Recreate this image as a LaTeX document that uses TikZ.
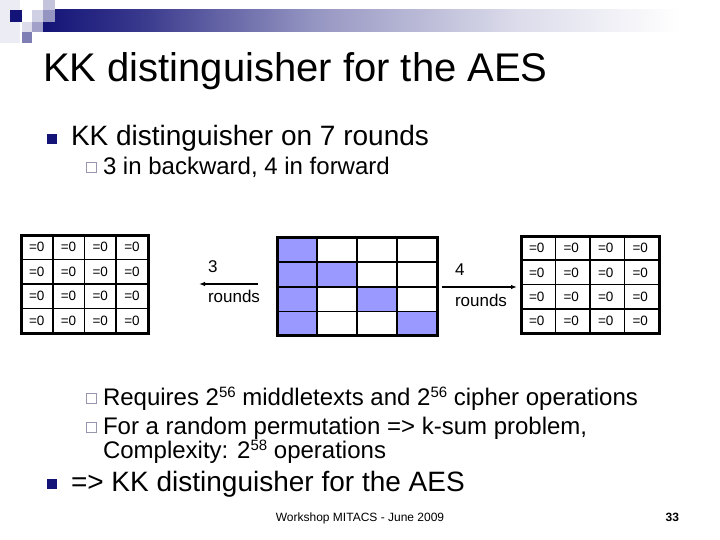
\documentclass[tikz,border=0pt]{standalone}
\usepackage{fontspec}
\setmainfont{Liberation Sans}
\usetikzlibrary{arrows.meta, positioning}
\definecolor{navy}{RGB}{20,20,120}
\definecolor{cellblue}{RGB}{153,153,255}
\definecolor{bulgray}{RGB}{150,150,175}
\pgfdeclarehorizontalshading{barfade}{100bp}{color(0bp)=(navy); color(25bp)=(navy);
  color(32bp)=(navy!85); color(45bp)=(navy!45); color(60bp)=(navy!15);
  color(72bp)=(white); color(100bp)=(white)}
\newcommand{\powsup}[1]{\raisebox{7.5pt}{\fontsize{15}{15}\selectfont #1}}

\begin{document}
\begin{tikzpicture}[
    x=1pt, y=-1pt,
    every node/.style={inner sep=0pt, outer sep=0pt},
    title/.style={font=\fontsize{40}{40}\selectfont, anchor=base west},
    lvone/.style={font=\fontsize{28}{28}\selectfont, anchor=base west},
    lvtwo/.style={font=\fontsize{24}{24}\selectfont, anchor=base west},
    bulone/.style={fill=navy, minimum size=10pt},
    bultwo/.style={draw=bulgray, line width=0.9pt, fill=white, minimum size=10pt},
    zcell/.style={draw, line width=1.6pt, font=\fontsize{13.5}{13.5}\selectfont,
                  align=left, inner xsep=8pt, anchor=north west},
    frame/.style={line width=3pt},
    flow/.style={-{Latex[length=6pt,width=4.5pt]}, line width=1.6pt},
    lbl/.style={font=\fontsize{17}{17}\selectfont, anchor=base west},
    foot/.style={font=\fontsize{12}{12}\selectfont, anchor=base},
]
\useasboundingbox (0,0) rectangle (720,540);
\fill[white] (0,0) rectangle (720,540);
\fill[navy!8] (0,0) rectangle (20,43);
\shade[shading=barfade] (43,10) rectangle (720,32);
\fill[navy!25] (43,0) rectangle (55,10);
\fill[navy!45] (43,10) rectangle (55,22);
\fill[navy!20] (32,10) rectangle (43,22);
\fill[navy] (10,10) rectangle (22,22);
\fill[navy!15] (22,22) rectangle (32,32);
\fill[navy!40] (32,22) rectangle (43,32);
\fill[navy!55] (22,32) rectangle (32,43);

\node[title] (ttl) at (43,82) {KK distinguisher for the AES};
\node[lvone] (t1) at (71,146) {KK distinguisher on 7 rounds};
\node[bulone, left=14pt of t1.west] (b1) {};
\node[lvtwo] (t2) at (103,175) {3 in backward, 4 in forward};
\node[bultwo, left=7pt of t2.west] (b2) {};

\foreach \r in {1,...,4} \foreach \c in {1,...,4} {
  \node[zcell, minimum width=31.75pt, minimum height=24.5pt, text width=15.75pt]
    (L-\r-\c) at ({21+(\c-1)*31.75},{235+(\r-1)*24.5}) {=0};
  \node[zcell, minimum width=34.5pt, minimum height=24.25pt, text width=18.5pt]
    (R-\r-\c) at ({521+(\c-1)*34.5},{236+(\r-1)*24.25}) {=0};
  \pgfmathtruncatemacro\hit{(\c==1)||(\r==\c)}
  \ifnum\hit=1 \def\cf{cellblue}\else\def\cf{white}\fi
  \node[zcell, fill=\cf, minimum width=40pt, minimum height=24.6pt]
    (M-\r-\c) at ({277+(\c-1)*40},{237.5+(\r-1)*24.6}) {};
}
\draw[frame] (L-1-1.north west) rectangle (L-4-4.south east);
\draw[frame] (M-1-1.north west) rectangle (M-4-4.south east);
\draw[frame] (R-1-1.north west) rectangle (R-4-4.south east);

\coordinate (bk-s) at (258,284);
\coordinate (bk-e) at (199,284);
\coordinate (fw-s) at (442,287);
\coordinate (fw-e) at (517,287);
\draw[flow] (bk-s) -- (bk-e);
\draw[flow] (fw-s) -- (fw-e);
\node[lbl] (bk-n) at (208,272) {3};
\node[lbl] (bk-r) at (208,302) {rounds};
\node[lbl] (fw-n) at (455,275) {4};
\node[lbl] (fw-r) at (455,306) {rounds};

\node[lvtwo] (t3) at (103,405) {Requires 2\powsup{56} middletexts and 2\powsup{56} cipher operations};
\node[bultwo, left=7pt of t3.west] (b3) {};
\node[lvtwo] (t4) at (103,434) {For a random permutation => k-sum problem,};
\node[bultwo, left=7pt of t4.west] (b4) {};
\node[lvtwo] (t5) at (103,458) {Complexity: 2\powsup{58} operations};
\node[lvone] (t6) at (71,491) {=> KK distinguisher for the AES};
\node[bulone, left=14pt of t6.west] (b6) {};

\node[foot] (ft) at (360,521) {Workshop MITACS - June 2009};
\node[foot, anchor=base east, font=\fontsize{12}{12}\selectfont\bfseries] (pg) at (679,521) {33};
\end{tikzpicture}
\end{document}
